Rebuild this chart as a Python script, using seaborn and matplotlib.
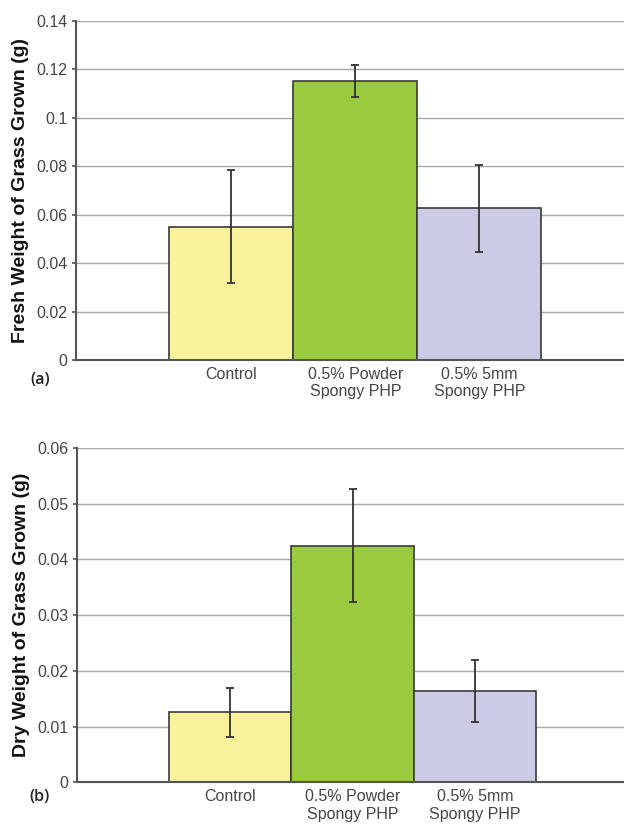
import matplotlib
matplotlib.use("Agg")
import matplotlib.pyplot as plt
import seaborn as sns
import pandas as pd

categories = ["Control", "0.5% Powder\nSpongy PHP", "0.5% 5mm\nSpongy PHP"]
fresh_mean = [0.0551, 0.1152, 0.0626]
fresh_err = [0.0234, 0.0066, 0.0178]
dry_mean = [0.0126, 0.0425, 0.0164]
dry_err = [0.0044, 0.0102, 0.0056]
colors = ["#F9F29B", "#9ACA3E", "#CCCBE6"]

sns.set_theme(style="white")
plt.rcParams["font.family"] = ["Liberation Sans", "DejaVu Sans"]

fig = plt.figure(figsize=(6.24, 8.24), dpi=100)
ax1 = fig.add_axes([76/624, 1-360/824, 1-76/624, (360-21)/824])
ax2 = fig.add_axes([77/624, 1-782.3/824, 1-77/624, (782.3-448)/824])

def draw(ax, means, errs, ymax, step, ylabel, yticklabels, xlim):
    df = pd.DataFrame({"cat": categories, "val": means})
    ax.set_axisbelow(True)
    sns.barplot(data=df, x="cat", y="val", hue="cat", palette=colors,
                saturation=1, width=1.0, edgecolor="#3a3a3a", linewidth=1.2,
                errorbar=None, legend=False, ax=ax, zorder=2)
    ax.errorbar(x=list(range(len(categories))), y=means, yerr=errs,
                fmt="none", ecolor="#333333", elinewidth=1.3, capsize=3,
                capthick=1.3, zorder=3)
    ax.set_ylim(0, ymax)
    ax.set_xlim(*xlim)
    ticks = [i * step for i in range(len(yticklabels))]
    ax.set_yticks(ticks)
    ax.set_yticklabels(yticklabels, fontsize=11.5, color="#454545")
    ax.yaxis.grid(True, color="#a8a8a8", linewidth=1.0)
    ax.xaxis.grid(False)
    ax.set_xlabel("")
    ax.set_ylabel(ylabel, fontsize=14, fontweight="bold", color="#111111", labelpad=5)
    ax.tick_params(axis="x", labelsize=11.5, colors="#454545", length=0, pad=5)
    ax.tick_params(axis="y", length=3, width=1.2, color="#555555", direction="out", pad=3, left=True)
    for s in ["top", "right"]:
        ax.spines[s].set_visible(False)
    for s in ["left", "bottom"]:
        ax.spines[s].set_color("#555555")
        ax.spines[s].set_linewidth(1.5)

draw(ax1, fresh_mean, fresh_err, 0.14, 0.02, "Fresh Weight of Grass Grown (g)",
     ["0", "0.02", "0.04", "0.06", "0.08", "0.1", "0.12", "0.14"], (-1.25, 3.165))
draw(ax2, dry_mean, dry_err, 0.06, 0.01, "Dry Weight of Grass Grown (g)",
     ["0", "0.01", "0.02", "0.03", "0.04", "0.05", "0.06"], (-1.25, 3.216))

fig.text(40/624, 1-380/824, "(a)", fontsize=11.5, fontweight="semibold",
         family=["Open Sans", "DejaVu Sans"], color="#222222", ha="center", va="center")
fig.text(40/624, 1-797/824, "(b)", fontsize=11.5, fontweight="semibold",
         family=["Open Sans", "DejaVu Sans"], color="#222222", ha="center", va="center")

fig.savefig("out.png", dpi=100)
